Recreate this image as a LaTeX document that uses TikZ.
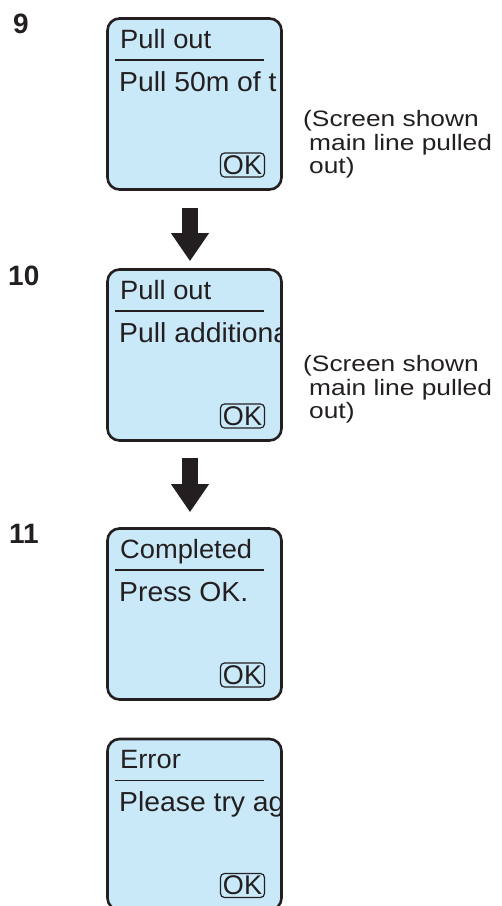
\documentclass[tikz,border=0pt]{standalone}
\usepackage{fontspec}
\setmainfont{Liberation Sans}
\newfontfamily\scrfont[FakeStretch=1.03]{Liberation Sans}
\newfontfamily\notefont[FakeStretch=1.18]{Liberation Sans}
\usetikzlibrary{arrows.meta,calc}
\definecolor{lcd}{RGB}{201,233,249}
\definecolor{ink}{RGB}{35,31,32}
\tikzset{
  screenbox/.style={draw=ink,fill=lcd,line width=2.6pt,rounded corners=12pt,
    minimum width=174pt,minimum height=171pt,inner sep=0pt},
  titletext/.style={anchor=base west,inner sep=0pt,text=ink,font=\scrfont\fontsize{26.5}{28}\selectfont},
  bodytext/.style={anchor=base west,inner sep=0pt,text=ink,font=\scrfont\fontsize{27.5}{28}\selectfont},
  divider/.style={draw=ink,line width=1.5pt},
  okbox/.style={draw=ink,line width=1.2pt,rounded corners=4pt,minimum width=44pt,
    minimum height=24pt,inner sep=0pt,text=ink,font=\fontsize{27}{28}\selectfont},
  stepnum/.style={anchor=base west,inner sep=0pt,text=ink,font=\bfseries\fontsize{28}{30}\selectfont},
  notetext/.style={anchor=base west,inner sep=0pt,text=ink,font=\notefont\fontsize{22.3}{24}\selectfont},
  bigarrow/.style={draw=ink,line width=16pt,-{Triangle[length=28pt,width=36pt]}}
}
\newcommand{\lcdscreen}[4]{%
  % #1 name, #2 top y, #3 title, #4 body
  \node[screenbox] (#1) at (194.5,#2+86.5) {};
  \begin{scope}
    \clip[rounded corners=11pt] ($(#1.south west)+(1.3,-1.3)$) rectangle ($(#1.north east)+(-1.3,1.3)$);
    \node[titletext] (#1t) at (120,#2+30.5) {#3};
    \node[bodytext] (#1b) at (119,#2+73.5) {#4};
  \end{scope}
  \draw[divider] (115,#2+42.5) coordinate (#1dl) -- (264,#2+42.5) coordinate (#1dr);
  \node[okbox] (#1ok) at (242.5,#2+147.5) {OK};
}
\begin{document}
\begin{tikzpicture}[x=1pt,y=-1pt]
\useasboundingbox (0,0) rectangle (502,906);
\lcdscreen{s1}{17.5}{Pull out}{Pull 50m of t}
\lcdscreen{s2}{268.5}{Pull out}{Pull additiona}
\lcdscreen{s3}{527.5}{Completed}{Press OK.}
\lcdscreen{s4}{738}{Error}{Please try ag}
\node[stepnum] (n9) at (13,33) {9};
\node[stepnum] (n10) at (8,285) {10};
\node[stepnum] (n11) at (9,543) {11};
\node[notetext] (a1) at (303,126) {(Screen shown};
\node[notetext] (a2) at (309,150) {main line pulled};
\node[notetext] (a3) at (309,173) {out)};
\node[notetext] (b1) at (303,371) {(Screen shown};
\node[notetext] (b2) at (309,395) {main line pulled};
\node[notetext] (b3) at (309,418) {out)};
\draw[bigarrow] ($(s1.south)+(-4.5,17)$) -- ($(s2.north)+(-4.5,-7)$);
\draw[bigarrow] ($(s2.south)+(-4.5,16)$) -- ($(s3.north)+(-4.5,-15)$);
\end{tikzpicture}
\end{document}
